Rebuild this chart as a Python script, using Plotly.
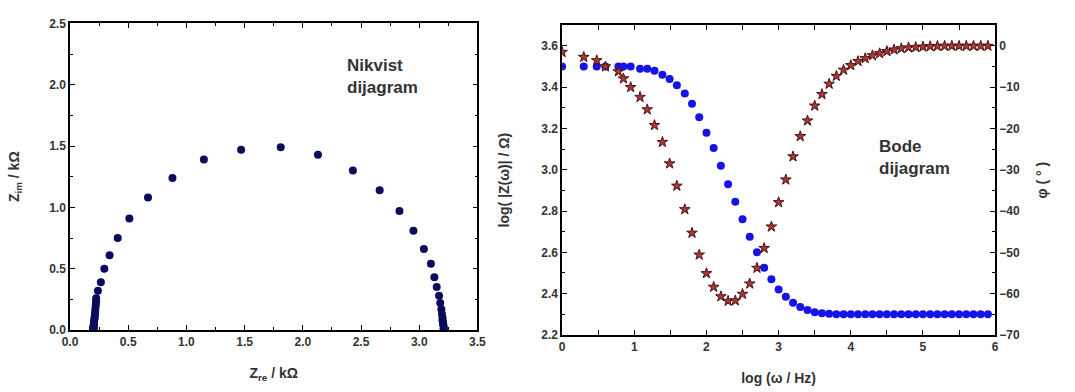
import plotly.graph_objects as go

# ---------------- Nyquist data (kOhm) ----------------
z_re = [0.200, 0.200, 0.201, 0.201, 0.202, 0.202, 0.203, 0.204, 0.205, 0.206,
        0.207, 0.209, 0.211, 0.213, 0.215, 0.217, 0.219, 0.222, 0.224,
        0.225, 0.24, 0.265, 0.295, 0.34, 0.41, 0.51, 0.67, 0.88, 1.15, 1.47,
        1.81, 2.13, 2.43, 2.66, 2.83, 2.95, 3.04, 3.10, 3.13, 3.15, 3.17,
        3.18, 3.19, 3.195, 3.20, 3.20, 3.205, 3.205, 3.21, 3.21, 3.21]
z_im = [0.000, 0.004, 0.008, 0.013, 0.018, 0.024, 0.031, 0.039, 0.048, 0.058,
        0.070, 0.083, 0.098, 0.115, 0.135, 0.158, 0.183, 0.21, 0.235,
        0.26, 0.32, 0.39, 0.50, 0.61, 0.75, 0.91, 1.08, 1.24, 1.39, 1.47,
        1.49, 1.43, 1.30, 1.14, 0.97, 0.81, 0.66, 0.54, 0.43, 0.35, 0.28,
        0.22, 0.17, 0.13, 0.10, 0.08, 0.06, 0.045, 0.03, 0.015, 0.005]

# ---------------- Bode data ----------------
log_w = [0.0, 0.30, 0.48, 0.60, 0.78, 0.85, 0.95, 1.08, 1.18, 1.28, 1.39, 1.49,
         1.59, 1.70, 1.80, 1.90,
         2.0, 2.1, 2.2, 2.3, 2.4, 2.5, 2.6, 2.7, 2.8, 2.9,
         3.0, 3.1, 3.2, 3.3, 3.4, 3.5, 3.6, 3.7, 3.8, 3.9,
         4.0, 4.1, 4.2, 4.3, 4.4, 4.5, 4.6, 4.7, 4.8, 4.9,
         5.0, 5.1, 5.2, 5.3, 5.4, 5.5, 5.6, 5.7, 5.8, 5.9]
log_Z = [3.50, 3.50, 3.50, 3.50, 3.50, 3.50, 3.50, 3.49, 3.49, 3.48, 3.46, 3.44,
         3.41, 3.37, 3.32, 3.255,
         3.18, 3.105, 3.02, 2.93, 2.845, 2.76, 2.675, 2.60, 2.525, 2.47,
         2.42, 2.385, 2.355, 2.335, 2.32, 2.31, 2.305, 2.302, 2.30, 2.30,
         2.30, 2.30, 2.30, 2.30, 2.30, 2.30, 2.30, 2.30, 2.30, 2.30,
         2.30, 2.30, 2.30, 2.30, 2.30, 2.30, 2.30, 2.30, 2.30, 2.30]
phase = [-1.5, -2.7, -3.5, -5.0, -6.2, -7.9, -10.0, -12.4, -15.4, -19.2, -23.3, -28.5,
         -33.9, -39.6, -45.3, -50.6,
         -55.1, -58.4, -60.7, -61.8, -61.7, -60.1, -57.6, -53.8, -49.0, -43.8,
         -37.9, -32.4, -26.8, -21.9, -18.1, -14.5, -11.7, -9.2, -7.3, -5.8,
         -4.7, -3.7, -3.0, -2.3, -1.8, -1.3, -0.9, -0.6, -0.4, -0.3,
         -0.2, -0.1, -0.05, 0.0, 0.0, 0.0, 0.0, 0.0, 0.0, 0.0]

W, H = 1075, 392
FONT = "Liberation Sans"
TXT = "#333333"

fig = go.Figure()
fig.add_trace(go.Scatter(x=z_re, y=z_im, mode="markers", xaxis="x", yaxis="y",
                         marker=dict(color="#0b0b5e", size=8), showlegend=False))
fig.add_trace(go.Scatter(x=log_w, y=log_Z, mode="markers", xaxis="x2", yaxis="y2",
                         marker=dict(color="#1414e6", size=8), showlegend=False))
fig.add_trace(go.Scatter(x=log_w, y=phase, mode="markers", xaxis="x2", yaxis="y3",
                         marker=dict(symbol="star", color="#a83838", size=8,
                                     line=dict(color="#4a1010", width=1)),
                         showlegend=False))

tickfont = dict(family=FONT, size=12, color=TXT, weight="bold")
titlefont = dict(family=FONT, size=14, color=TXT, weight="bold")

def ax(**kw):
    d = dict(showline=True, linecolor="black", linewidth=1.5, ticks="inside",
             ticklen=5, tickwidth=1.2, tickcolor="black", showgrid=False,
             zeroline=False, tickfont=tickfont, title_font=titlefont)
    d.update(kw)
    return d

x1d = [63 / W, 477 / W]
y1d = [1 - 335 / H, 1 - 17 / H]
x2d = [563 / W, 1003 / W]
y2d = [1 - 340 / H, 1 - 19 / H]

minor = lambda dt: dict(dtick=dt, ticklen=3, ticks="inside", tickcolor="black")

fig.update_layout(
    width=W, height=H, margin=dict(l=0, r=0, t=0, b=0),
    plot_bgcolor="white", paper_bgcolor="white",
    xaxis=ax(domain=x1d, anchor="y", range=[0, 3.5], dtick=0.5, tickformat=".1f",
             mirror="allticks", minor=minor(0.25),
             title=dict(text="Z<sub>re</sub> / kΩ", standoff=20)),
    yaxis=ax(domain=y1d, anchor="x", range=[0, 2.5], dtick=0.5, tickformat=".1f",
             mirror="allticks", minor=minor(0.25),
             title=dict(text="Z<sub>im</sub> / kΩ", standoff=26)),
    xaxis2=ax(domain=x2d, anchor="y2", range=[0, 6], dtick=1,
              mirror="allticks", minor=minor(0.5),
              title=dict(text="log (ω / Hz)", standoff=20)),
    yaxis2=ax(domain=y2d, anchor="x2", range=[2.2, 3.7], dtick=0.2, tickformat=".1f",
              minor=minor(0.1),
              title=dict(text="log( |Z(ω)| / Ω)", standoff=28)),
    yaxis3=ax(domain=y2d, anchor="x2", overlaying="y2", side="right", range=[-70, 5],
              tick0=0, dtick=10, minor=minor(5),
              title=dict(text="φ ( ° )", standoff=18)),
    annotations=[
        dict(x=2.36, y=2.07, xref="x", yref="y", xanchor="left", yanchor="middle",
             text="Nikvist<br>dijagram", showarrow=False, align="left",
             font=dict(family=FONT, size=17, color=TXT, weight="bold")),
        dict(x=4.36, y=3.06, xref="x2", yref="y2", xanchor="left", yanchor="middle",
             text="Bode<br>dijagram", showarrow=False, align="left",
             font=dict(family=FONT, size=17, color=TXT, weight="bold")),
    ],
)

fig.write_html("out.html")
